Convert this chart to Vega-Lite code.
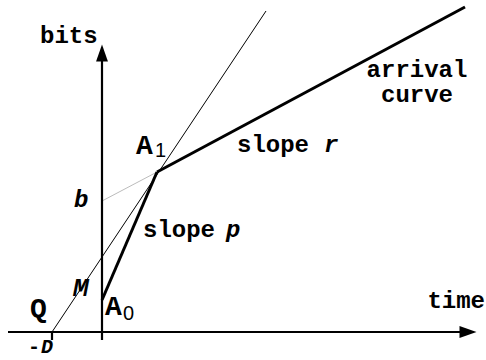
{
  "$schema": "https://vega.github.io/schema/vega-lite/v6.json",
  "width": 486,
  "height": 360,
  "padding": 0,
  "autosize": {"type": "fit", "contains": "padding"},
  "background": "white",
  "config": {"view": {"stroke": null}},
  "datasets": {
    "segs": [
      {"kind": "axis", "x": -94, "y": 0, "x2": 358, "y2": 0},
      {"kind": "axis", "x": 0, "y": -8, "x2": 0, "y2": 273},
      {"kind": "axis", "x": -50, "y": 0, "x2": -50, "y2": -8},
      {"kind": "thick", "x": 0, "y": 32, "x2": 55, "y2": 160},
      {"kind": "thick", "x": 55, "y": 160, "x2": 363, "y2": 325},
      {"kind": "thin", "x": -50, "y": 0, "x2": 164, "y2": 321},
      {"kind": "gray", "x": 0, "y": 131, "x2": 55, "y2": 160}
    ],
    "arrows": [
      {"dir": "right", "x": 366, "y": 0},
      {"dir": "up", "x": 0, "y": 279}
    ],
    "labels": [
      {"style": "bold", "label": "bits", "x": -62, "y": 289},
      {"style": "boldc", "label": "arrival", "x": 315, "y": 255},
      {"style": "boldc", "label": "curve", "x": 315, "y": 230},
      {"style": "bold", "label": "slope", "x": 135, "y": 180},
      {"style": "bold", "label": "slope", "x": 41, "y": 95},
      {"style": "boldr", "label": "time", "x": 383, "y": 24},
      {"style": "big", "label": "A", "x": 34, "y": 178},
      {"style": "big", "label": "A", "x": 3, "y": 17},
      {"style": "big", "label": "Q", "x": -72, "y": 15},
      {"style": "minus", "label": "-", "x": -74, "y": -21},
      {"style": "italic", "label": "r", "x": 222, "y": 180},
      {"style": "italic", "label": "p", "x": 124, "y": 95},
      {"style": "italic", "label": "b", "x": -28, "y": 125},
      {"style": "dlabel", "label": "D", "x": -61, "y": -21},
      {"style": "small", "label": "M", "x": -29, "y": 36},
      {"style": "sub", "label": "1", "x": 53, "y": 175},
      {"style": "sub", "label": "0", "x": 21, "y": 12}
    ]
  },
  "encoding": {
    "x": {"field": "x", "type": "quantitative", "scale": {"domain": [-102, 384], "nice": false, "zero": false}, "axis": null},
    "y": {"field": "y", "type": "quantitative", "scale": {"domain": [-28, 332], "nice": false, "zero": false}, "axis": null}
  },
  "layer": [
    {
      "data": {"name": "segs"},
      "transform": [{"filter": "datum.kind == 'gray'"}],
      "mark": {"type": "rule", "color": "#aaaaaa", "strokeWidth": 0.8},
      "encoding": {"x2": {"field": "x2"}, "y2": {"field": "y2"}}
    },
    {
      "data": {"name": "segs"},
      "transform": [{"filter": "datum.kind == 'thin'"}],
      "mark": {"type": "rule", "color": "black", "strokeWidth": 1},
      "encoding": {"x2": {"field": "x2"}, "y2": {"field": "y2"}}
    },
    {
      "data": {"name": "segs"},
      "transform": [{"filter": "datum.kind == 'axis'"}],
      "mark": {"type": "rule", "color": "black", "strokeWidth": 2.2},
      "encoding": {"x2": {"field": "x2"}, "y2": {"field": "y2"}}
    },
    {
      "data": {"name": "segs"},
      "transform": [{"filter": "datum.kind == 'thick'"}],
      "mark": {"type": "rule", "color": "black", "strokeWidth": 3},
      "encoding": {"x2": {"field": "x2"}, "y2": {"field": "y2"}}
    },
    {
      "data": {"name": "arrows"},
      "transform": [{"filter": "datum.dir == 'right'"}],
      "mark": {"type": "point", "shape": "M -1 -0.7 L 1 0 L -1 0.7 Z", "size": 289, "filled": true, "color": "black", "opacity": 1}
    },
    {
      "data": {"name": "arrows"},
      "transform": [{"filter": "datum.dir == 'up'"}],
      "mark": {"type": "point", "shape": "M -0.7 1 L 0 -1 L 0.7 1 Z", "size": 289, "filled": true, "color": "black", "opacity": 1}
    },
    {
      "data": {"name": "labels"},
      "transform": [{"filter": "datum.style == 'bold'"}],
      "mark": {"type": "text", "font": "Liberation Mono", "fontWeight": "bold", "fontSize": 24, "align": "left", "baseline": "alphabetic", "color": "black"},
      "encoding": {"text": {"field": "label"}}
    },
    {
      "data": {"name": "labels"},
      "transform": [{"filter": "datum.style == 'minus'"}],
      "mark": {"type": "text", "font": "Liberation Mono", "fontWeight": "bold", "fontSize": 20, "align": "left", "baseline": "alphabetic", "color": "black"},
      "encoding": {"text": {"field": "label"}}
    },
    {
      "data": {"name": "labels"},
      "transform": [{"filter": "datum.style == 'big'"}],
      "mark": {"type": "text", "font": "Liberation Mono", "fontWeight": "bold", "fontSize": 28, "align": "left", "baseline": "alphabetic", "color": "black"},
      "encoding": {"text": {"field": "label"}}
    },
    {
      "data": {"name": "labels"},
      "transform": [{"filter": "datum.style == 'boldc'"}],
      "mark": {"type": "text", "font": "Liberation Mono", "fontWeight": "bold", "fontSize": 24, "align": "center", "baseline": "alphabetic", "color": "black"},
      "encoding": {"text": {"field": "label"}}
    },
    {
      "data": {"name": "labels"},
      "transform": [{"filter": "datum.style == 'boldr'"}],
      "mark": {"type": "text", "font": "Liberation Mono", "fontWeight": "bold", "fontSize": 24, "align": "right", "baseline": "alphabetic", "color": "black"},
      "encoding": {"text": {"field": "label"}}
    },
    {
      "data": {"name": "labels"},
      "transform": [{"filter": "datum.style == 'italic'"}],
      "mark": {"type": "text", "font": "Liberation Mono", "fontWeight": "bold", "fontStyle": "italic", "fontSize": 24, "align": "left", "baseline": "alphabetic", "color": "black"},
      "encoding": {"text": {"field": "label"}}
    },
    {
      "data": {"name": "labels"},
      "transform": [{"filter": "datum.style == 'dlabel'"}],
      "mark": {"type": "text", "font": "Liberation Mono", "fontWeight": "bold", "fontStyle": "italic", "fontSize": 20, "align": "left", "baseline": "alphabetic", "color": "black"},
      "encoding": {"text": {"field": "label"}}
    },
    {
      "data": {"name": "labels"},
      "transform": [{"filter": "datum.style == 'small'"}],
      "mark": {"type": "text", "font": "Liberation Mono", "fontWeight": "bold", "fontStyle": "italic", "fontSize": 26, "align": "left", "baseline": "alphabetic", "color": "black"},
      "encoding": {"text": {"field": "label"}}
    },
    {
      "data": {"name": "labels"},
      "transform": [{"filter": "datum.style == 'sub'"}],
      "mark": {"type": "text", "font": "Liberation Sans", "fontWeight": "normal", "fontSize": 20, "align": "left", "baseline": "alphabetic", "color": "black"},
      "encoding": {"text": {"field": "label"}}
    }
  ]
}
